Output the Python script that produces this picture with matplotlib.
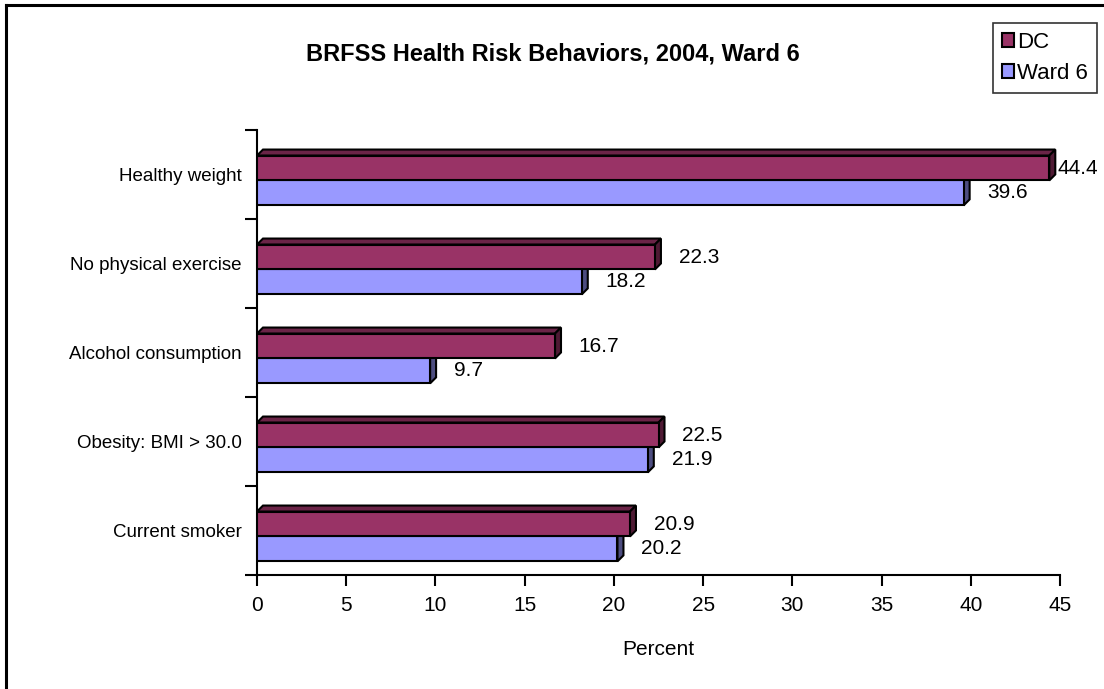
import matplotlib
matplotlib.use("Agg")
import matplotlib.pyplot as plt
from matplotlib.patches import Polygon, Patch
from matplotlib.lines import Line2D

plt.rcParams['font.family'] = ['Liberation Sans', 'DejaVu Sans']

categories = ["Current smoker", "Obesity: BMI > 30.0", "Alcohol consumption",
              "No physical exercise", "Healthy weight"]
dc_values = [20.9, 22.5, 16.7, 22.3, 44.4]
ward_values = [20.2, 21.9, 9.7, 18.2, 39.6]
series_names = ["DC", "Ward 6"]
xticks = [0, 5, 10, 15, 20, 25, 30, 35, 40, 45]

W, H = 1104, 689
fig = plt.figure(figsize=(W / 100, H / 100), dpi=100)
ax = fig.add_axes([257 / W, 1 - 575 / H, (1060 - 257) / W, (575 - 130) / H])

xmin, xmax = 0, 45
ymin, ymax = -0.5, len(categories) - 0.5
ax.set_xlim(xmin, xmax)
ax.set_ylim(ymin, ymax)

# pixel scales for the 3D depth
px_per_x = (1060 - 257) / (xmax - xmin)
px_per_y = (575 - 130) / (ymax - ymin)
depth_px = 6
dx = depth_px / px_per_x
dy = depth_px / px_per_y

bar_h = 0.28
dc_off = 0.073
ward_off = dc_off - bar_h

dc_front, dc_top, dc_side = "#993366", "#6b2447", "#4f1a34"
wd_front, wd_top, wd_side = "#9999FF", "#6b6bb3", "#4d4d80"

def bar3d(y, w, front, top, side):
    y0, y1 = y - bar_h / 2, y + bar_h / 2
    ax.add_patch(Polygon([(0, y1), (w, y1), (w + dx, y1 + dy), (dx, y1 + dy)],
                         closed=True, facecolor=top, edgecolor="black", lw=1.5, zorder=2))
    ax.add_patch(Polygon([(w, y0), (w + dx, y0 + dy), (w + dx, y1 + dy), (w, y1)],
                         closed=True, facecolor=side, edgecolor="black", lw=1.5, zorder=2))
    ax.barh(y, w, height=bar_h, color=front, edgecolor="black", lw=1.5, zorder=3)

def label_x(v):
    # keep labels inside the chart area, like the original
    return min(v + dx + 1.0, xmax - 0.15)

for i, (d, wv) in enumerate(zip(dc_values, ward_values)):
    bar3d(i + ward_off, wv, wd_front, wd_top, wd_side)
    bar3d(i + dc_off, d, dc_front, dc_top, dc_side)
    ax.text(label_x(d), i + dc_off, f"{d:.1f}", va="center", ha="left", fontsize=15,
            clip_on=False)
    ax.text(label_x(wv), i + ward_off, f"{wv:.1f}", va="center", ha="left", fontsize=15,
            clip_on=False)

for s in ["top", "right"]:
    ax.spines[s].set_visible(False)
for s in ["left", "bottom"]:
    ax.spines[s].set_linewidth(1.5)

ax.set_xticks(xticks)
ax.set_xticklabels([str(t) for t in xticks], fontsize=15)
ax.set_yticks([i - 0.5 for i in range(len(categories) + 1)], minor=False)
ax.set_yticklabels([])
ax.set_yticks(range(len(categories)), minor=True)
ax.set_yticklabels(categories, minor=True, fontsize=13.5)
ax.tick_params(axis="y", which="major", direction="out", length=9, width=1.5)
ax.tick_params(axis="y", which="minor", length=0, pad=11)
ax.tick_params(axis="x", direction="out", length=8, width=1.5, pad=7)
ax.set_xlabel("Percent", fontsize=15, labelpad=18)

fig.text(553 / W, 1 - 54 / H, "BRFSS Health Risk Behaviors, 2004, Ward 6",
         ha="center", va="center", fontsize=17, fontweight="bold")

handles = [Patch(facecolor=dc_front, edgecolor="black", lw=1.5),
           Patch(facecolor=wd_front, edgecolor="black", lw=1.5)]
leg = fig.legend(handles, series_names, loc="upper left",
                 bbox_to_anchor=(993 / W, 1 - 23 / H), fontsize=16,
                 frameon=True, fancybox=False, edgecolor="black",
                 handlelength=0.55, handleheight=0.55, handletextpad=0.15,
                 borderpad=0.4, labelspacing=0.45, borderaxespad=0)
leg.get_frame().set_linewidth(1.2)

# outer frame (top and left visible)
fig.add_artist(Line2D([6 / W, 6 / W], [0, 1 - 4.5 / H], color="black", lw=2.2,
                      transform=fig.transFigure))
fig.add_artist(Line2D([6 / W, 1], [1 - 4.5 / H, 1 - 4.5 / H], color="black", lw=2.2,
                      transform=fig.transFigure))

fig.savefig("out.png", dpi=100)
